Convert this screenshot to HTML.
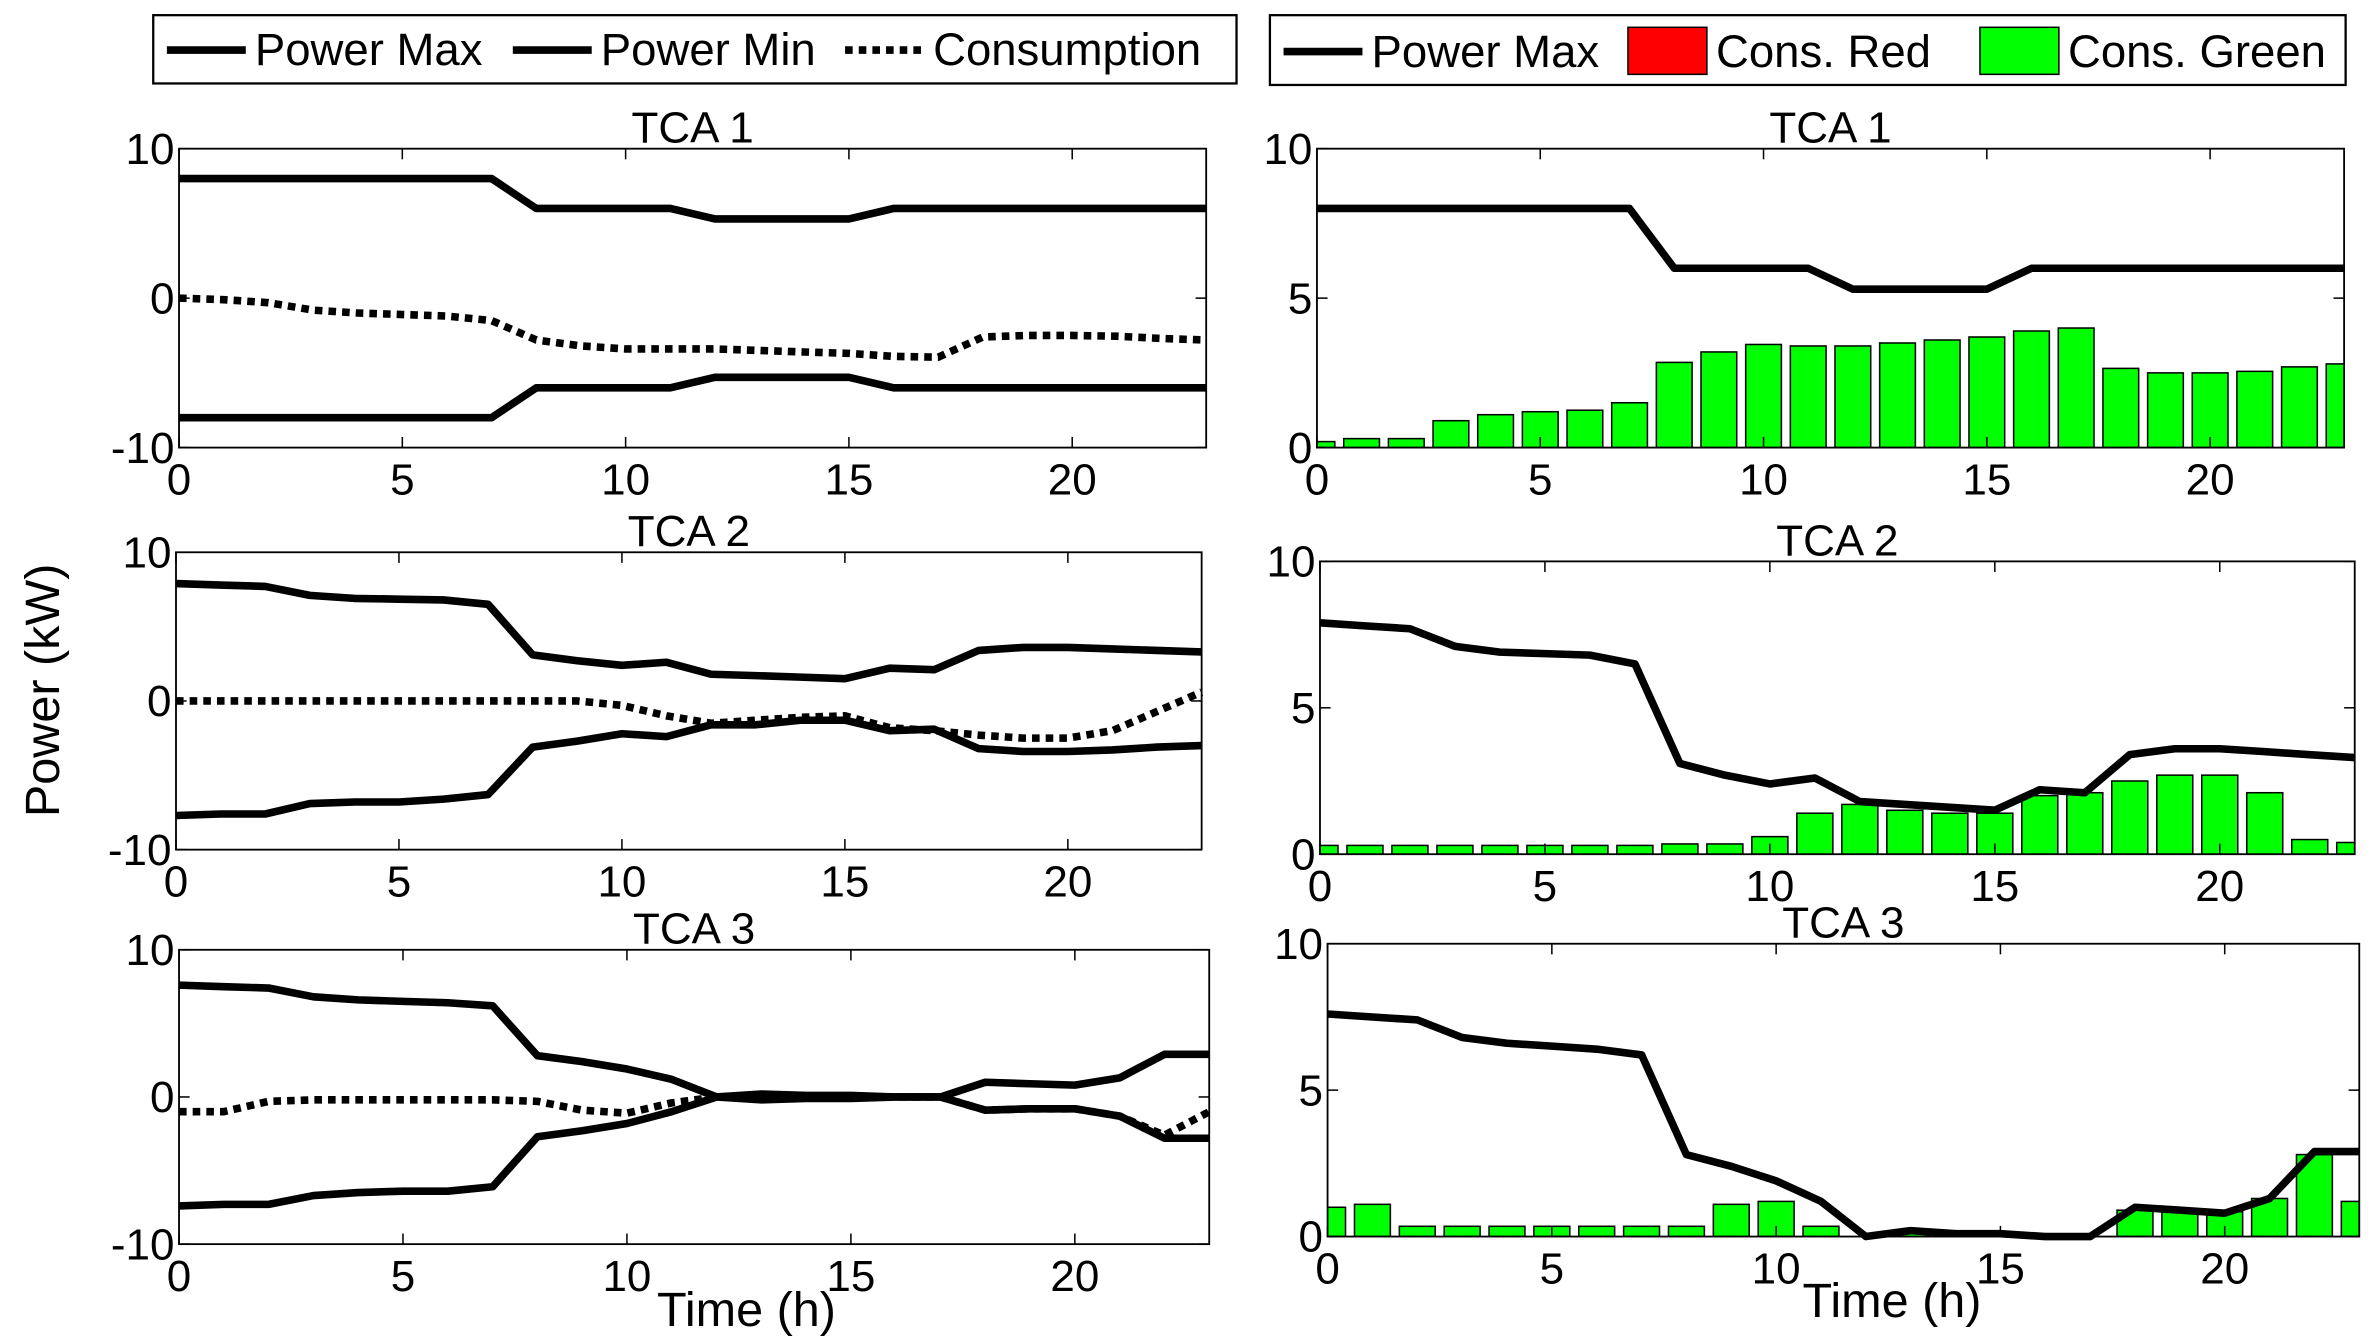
<!DOCTYPE html>
<html><head><meta charset="utf-8"><style>
html,body{margin:0;padding:0;background:#fff}
svg{display:block}
text{font-family:"Liberation Sans",Arial,sans-serif;fill:#000}
</style></head><body>
<svg id="s" width="2379" height="1342" viewBox="0 0 1568 884.5" preserveAspectRatio="none" xmlns="http://www.w3.org/2000/svg">
<rect width="1568" height="885" fill="#fff"/>
<rect x="101" y="10" width="714" height="45" fill="#fff" stroke="#000" stroke-width="1.5"/>
<line x1="110" y1="33" x2="162" y2="33" stroke="#000" stroke-width="5"/>
<text x="168" y="43" font-size="30">Power Max</text>
<line x1="338" y1="33" x2="390" y2="33" stroke="#000" stroke-width="5"/>
<text x="396" y="43" font-size="30">Power Min</text>
<line x1="557" y1="33" x2="609" y2="33" stroke="#000" stroke-width="5" stroke-dasharray="5,4"/>
<text x="615" y="43" font-size="30">Consumption</text>
<rect x="837" y="10" width="709" height="46" fill="#fff" stroke="#000" stroke-width="1.5"/>
<line x1="846" y1="34" x2="898" y2="34" stroke="#000" stroke-width="5"/>
<text x="904" y="44" font-size="30">Power Max</text>
<rect x="1073" y="18" width="52" height="31" fill="#f00" stroke="#000"/>
<text x="1131" y="44" font-size="30">Cons. Red</text>
<rect x="1305" y="18" width="52" height="31" fill="#0f0" stroke="#000"/>
<text x="1363" y="44" font-size="30">Cons. Green</text>
<text x="0" y="0" font-size="32" transform="translate(39,455) rotate(-90)" text-anchor="middle">Power (kW)</text>
<text x="492" y="874" font-size="32" text-anchor="middle">Time (h)</text>
<text x="1247" y="868" font-size="32" text-anchor="middle">Time (h)</text>
<g id="g"></g>
</svg>
<script>
var NS="http://www.w3.org/2000/svg",g=document.getElementById('g');
function el(t,a,txt){var e=document.createElementNS(NS,t);for(var k in a)e.setAttribute(k,a[k]);if(txt!==undefined)e.textContent=txt;g.appendChild(e);return e;}
var d={
1:{max:[8,8,8,8,8,8,8,8,6,6,6,6,5.3,5.3,5.3,5.3,6,6,6,6,6,6,6,6],
 c:[0,-0.1,-0.3,-0.8,-1,-1.1,-1.2,-1.5,-2.8,-3.2,-3.4,-3.4,-3.4,-3.5,-3.6,-3.7,-3.9,-3.95,-2.6,-2.5,-2.5,-2.55,-2.7,-2.8],
 b:[0.2,0.3,0.3,0.9,1.1,1.2,1.25,1.5,2.85,3.2,3.45,3.4,3.4,3.5,3.6,3.7,3.9,4,2.65,2.5,2.5,2.55,2.7,2.8]},
2:{max:[7.9,7.8,7.7,7.1,6.9,6.85,6.8,6.5,3.1,2.7,2.4,2.6,1.8,1.7,1.6,1.5,2.2,2.1,3.4,3.6,3.6,3.5,3.4,3.3],
 min:[-7.7,-7.6,-7.6,-6.9,-6.8,-6.8,-6.6,-6.3,-3.1,-2.7,-2.2,-2.4,-1.6,-1.6,-1.3,-1.3,-2.0,-1.9,-3.2,-3.4,-3.4,-3.3,-3.1,-3.0],
 c:[0,0,0,0,0,0,0,0,0,0,-0.3,-1,-1.5,-1.3,-1.1,-1,-1.8,-2,-2.3,-2.5,-2.5,-2,-0.7,0.6],
 b:[0.3,0.3,0.3,0.3,0.3,0.3,0.3,0.3,0.35,0.35,0.6,1.4,1.7,1.5,1.4,1.4,2.0,2.1,2.5,2.7,2.7,2.1,0.5,0.4]},
3:{max:[7.6,7.5,7.4,6.8,6.6,6.5,6.4,6.2,2.8,2.4,1.9,1.2,0,0.2,0.1,0.1,0,0,1,0.9,0.8,1.3,2.9,2.9],
 min:[-7.4,-7.3,-7.3,-6.7,-6.5,-6.4,-6.4,-6.1,-2.7,-2.3,-1.8,-1,0,-0.2,-0.1,-0.1,0,0,-0.9,-0.8,-0.8,-1.3,-2.8,-2.8],
 c:[-1,-1,-0.3,-0.2,-0.2,-0.2,-0.2,-0.2,-0.3,-0.9,-1.1,-0.4,0,0,0,0,0,0,-0.9,-0.8,-0.8,-1.3,-2.6,-1],
 b:[1.0,1.1,0.35,0.35,0.35,0.35,0.35,0.35,0.35,1.1,1.2,0.35,0,0.1,0.1,0.1,0,0,0.9,0.85,0.85,1.3,2.8,1.2]}};
var L={1:[118,795,98,295],2:[116,792,364,560],3:[118,797,626,820]};
var R={1:[868,1545,98,295],2:[870,1552,370,563],3:[875,1555,622,815]};
function axes(b,ymin,ymax){
 var x0=b[0],x1=b[1],y0=b[2],y1=b[3];
 return {X:function(v){return x0+(x1-x0)*v/23},Y:function(v){return y1-(y1-y0)*(v-ymin)/(ymax-ymin)}};
}
function frame(b,ymin,ymax,ticks,title){
 var x0=b[0],x1=b[1],y0=b[2],y1=b[3];
 var X=function(v){return x0+(x1-x0)*v/23},Y=function(v){return y1-(y1-y0)*(v-ymin)/(ymax-ymin)};
 el('rect',{x:x0,y:y0,width:x1-x0,height:y1-y0,fill:'none',stroke:'#000','stroke-width':1.2});
 [0,5,10,15,20].forEach(function(t){var x=X(t);
  el('line',{x1:x,y1:y1,x2:x,y2:y1-7,stroke:'#000'});el('line',{x1:x,y1:y0,x2:x,y2:y0+7,stroke:'#000'});
  el('text',{x:x,y:y1+31,'font-size':29,'text-anchor':'middle'},String(t));});
 ticks.forEach(function(t){var y=Y(t);
  el('line',{x1:x0,y1:y,x2:x0+7,y2:y,stroke:'#000'});el('line',{x1:x1,y1:y,x2:x1-7,y2:y,stroke:'#000'});
  el('text',{x:x0-3,y:y+10,'font-size':29,'text-anchor':'end'},String(t));});
 el('text',{x:(x0+x1)/2,y:y0-4,'font-size':29,'text-anchor':'middle'},title);
}
function line(arr,f,dash){var p=arr.map(function(v,i){return f.X(i).toFixed(1)+','+f.Y(v).toFixed(1)}).join(' ');
 var a={points:p,fill:'none',stroke:'#000','stroke-width':5,'stroke-linejoin':'round'};if(dash)a['stroke-dasharray']='5,4';el('polyline',a);}
for(var i=1;i<=3;i++){
 var b=L[i],f=axes(b,-10,10);
 line(d[i].max,f);line(d[i].min||d[i].max.map(function(v){return -v}),f);line(d[i].c,f,true);
 frame(b,-10,10,[-10,0,10],'TCA '+i);
 var r=R[i],g2=axes(r,0,10);
 var cp=document.createElementNS(NS,'clipPath');cp.setAttribute('id','c'+i);
 var cr=document.createElementNS(NS,'rect');cr.setAttribute('x',r[0]);cr.setAttribute('y',r[2]);cr.setAttribute('width',r[1]-r[0]);cr.setAttribute('height',r[3]-r[2]);cp.appendChild(cr);g.appendChild(cp);
 var grp=el('g',{'clip-path':'url(#c'+i+')'});
 var w=(r[1]-r[0])/23*0.8;
 d[i].b.forEach(function(v,k){var x=g2.X(k)-w/2,y=g2.Y(v);
  var e=document.createElementNS(NS,'rect');e.setAttribute('x',x);e.setAttribute('y',y);e.setAttribute('width',w);e.setAttribute('height',Math.max(0,r[3]-y));e.setAttribute('fill','#0f0');e.setAttribute('stroke','#000');grp.appendChild(e);});
 line(d[i].max,g2);
 frame(r,0,10,[0,5,10],'TCA '+i);
}
</script>
</body></html>
